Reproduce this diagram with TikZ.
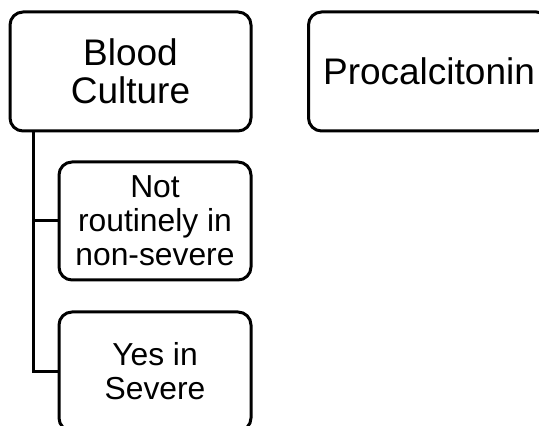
\documentclass[tikz,border=0pt]{standalone}
\usepackage{fontspec}
\setmainfont{Liberation Sans}
\begin{document}
\begin{tikzpicture}[x=1pt,y=1pt,
  box/.style={draw=black, line width=3pt, rounded corners=13pt, fill=white, align=center, inner sep=0pt},
  bigbox/.style={box, minimum width=241pt, minimum height=119pt, font=\fontsize{37}{38.5}\selectfont},
  smallbox/.style={box, minimum width=192pt, minimum height=118pt, font=\fontsize{31.8}{34}\selectfont},
  conn/.style={draw=black, line width=3pt}]
\path[use as bounding box, clip] (0,0) rectangle (539,426);
\node[bigbox] (bc) at (130.5,354.5) {Blood\\Culture};
\node[bigbox] (pc) at (429,354.5) {Procalcitonin};
\node[smallbox] (nr) at (155,205) {Not\\routinely in\\non-severe};
\node[smallbox, minimum height=119pt] (ys) at (155,54.5) {Yes in\\Severe};
\coordinate (trunk) at ([xshift=25pt]bc.south west);
\draw[conn] (trunk) |- (ys.west);
\draw[conn] (trunk) |- (nr.west);
\end{tikzpicture}
\end{document}
